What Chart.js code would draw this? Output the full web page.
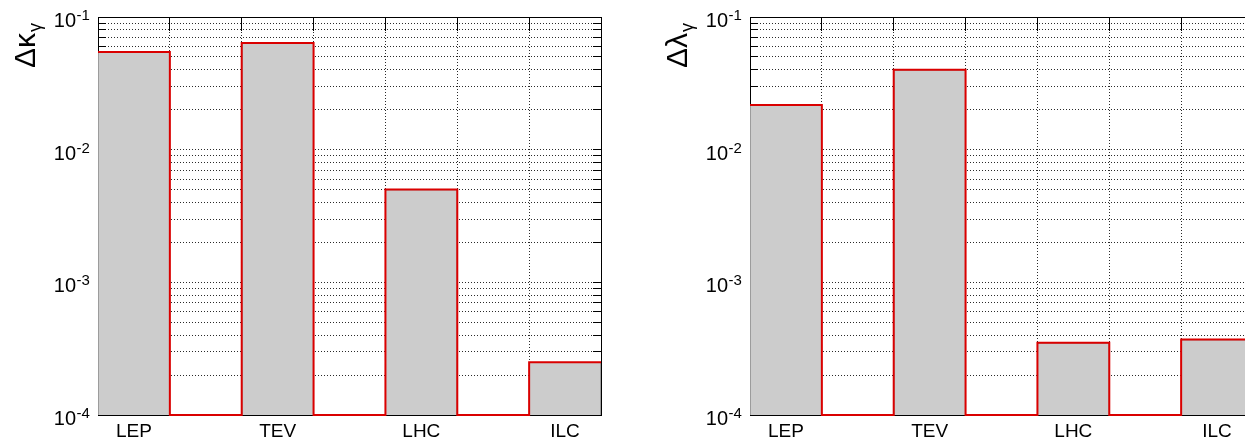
<!DOCTYPE html>
<html><head><meta charset="utf-8">
<script src="https://cdn.jsdelivr.net/npm/chart.js@4"></script>
<style>
html,body{margin:0;padding:0;background:#fff;overflow:hidden;width:1245px;height:441px;}
canvas{position:absolute;top:0;}
#c1{left:0}
#c2{left:620px}
</style></head><body>
<canvas id="c1" width="620" height="441"></canvas>
<canvas id="c2" width="660" height="441"></canvas>
<script>
const categories = ['LEP', 'TEV', 'LHC', 'ILC'];
const deltaKappa = [0.0545, 0.0636, 0.0050, 0.00025];
const deltaLambda = [0.0217, 0.0400, 0.00035, 0.00037];
const yMin = 1e-4, yMax = 1e-1;
const yTickValues = [1e-1, 1e-2, 1e-3, 1e-4];
const yTickBase = ['10', '10', '10', '10'];
const yTickExponents = ['-1', '-2', '-3', '-4'];
const titles = [['Δκ', 'γ'], ['Δλ', 'γ']];

const FONT = '"Liberation Sans", Arial, Helvetica, sans-serif';
const nSlots = categories.length * 2 - 1;

function align(p) { return Math.round(p - 0.5) + 0.5; }

const decor = {
  id: 'decor',
  beforeDatasetsDraw(chart) {
    const {ctx, chartArea: a, scales: {x, y}} = chart;
    ctx.save();
    ctx.strokeStyle = '#000';
    ctx.lineWidth = 1;
    ctx.beginPath();
    y.ticks.forEach(t => {
      const py = align(y.getPixelForValue(t.value));
      ctx.moveTo(a.left, py); ctx.lineTo(a.left + 8, py);
      ctx.moveTo(a.right, py); ctx.lineTo(a.right - 8, py);
    });
    x.ticks.forEach(t => {
      const px = align(x.getPixelForValue(t.value));
      ctx.moveTo(px, a.top); ctx.lineTo(px, a.top + 14);
      ctx.moveTo(px, a.bottom); ctx.lineTo(px, a.bottom - 14);
    });
    ctx.stroke();
    ctx.restore();
  },
  afterDatasetsDraw(chart) {
    const {ctx, chartArea: a} = chart;
    ctx.save();
    ctx.strokeStyle = '#000';
    ctx.lineWidth = 1;
    ctx.beginPath();
    const t = align(a.top), r = align(a.right);
    ctx.moveTo(align(a.left), t); ctx.lineTo(r, t); ctx.lineTo(r, align(a.bottom));
    ctx.stroke();
    ctx.restore();
  },
  afterDraw(chart, args, opts) {
    const {ctx, chartArea: a, scales: {y}} = chart;
    ctx.save();
    ctx.fillStyle = '#000';
    ctx.textBaseline = 'alphabetic';
    yTickValues.forEach((v, i) => {
      const py = y.getPixelForValue(v);
      ctx.font = '20px ' + FONT;
      ctx.textAlign = 'right';
      ctx.fillText(yTickBase[i], a.left - 22, py + 10);
      ctx.font = '15px ' + FONT;
      ctx.textAlign = 'left';
      ctx.fillText(yTickExponents[i], a.left - 21.5, py + 3);
    });
    // axis title
    const tt = titles[opts.idx];
    ctx.translate(a.left - 63, 68);
    ctx.rotate(-Math.PI / 2);
    ctx.font = '30px ' + FONT;
    ctx.textAlign = 'left';
    ctx.fillText(tt[0], 0, 0);
    const w = ctx.measureText(tt[0]).width;
    ctx.font = '18px ' + FONT;
    ctx.fillText(tt[1], w + 1, 6);
    ctx.restore();
  }
};

function makeChart(id, values, idx, yAxisWidth, padRight) {
  const bars = values.map((v, i) => ({x: 2 * i + 0.5, y: v}));
  const stairs = [];
  values.forEach((v, i) => {
    stairs.push({x: 2 * i, y: v});
    if (i < values.length - 1) stairs.push({x: 2 * i + 1, y: yMin});
  });
  stairs.push({x: nSlots, y: values[values.length - 1]});
  return new Chart(document.getElementById(id), {
    type: 'bar',
    data: {
      datasets: [
        {type: 'line', data: stairs, stepped: 'before', borderColor: 'rgb(218,0,0)', borderWidth: 2,
         pointRadius: 0, fill: false, clip: 6, order: 0},
        {type: 'bar', data: bars, backgroundColor: '#cccccc', borderColor: '#858585', borderWidth: 1,
         barPercentage: 1, categoryPercentage: 1, order: 1}
      ]
    },
    options: {
      responsive: false,
      animation: false,
      events: [],
      layout: {padding: {top: 17, right: padRight, left: 0, bottom: 0}},
      plugins: {legend: {display: false}, tooltip: {enabled: false}, decor: {idx: idx}},
      scales: {
        x: {
          type: 'linear', min: 0, max: nSlots, offset: false,
          afterBuildTicks: s => { const t = []; for (let i = 0; i <= nSlots; i++) t.push({value: i}); s.ticks = t; },
          afterFit: s => { s.height = 26; },
          grid: {offset: false, drawTicks: false, color: '#2a2a2a', lineWidth: 1},
          border: {display: true, color: '#000', width: 1, dash: [1, 2]},
          ticks: {
            autoSkip: false, maxRotation: 0, padding: 5, labelOffset: 35.9, color: '#000',
            font: {family: FONT, size: 19},
            callback: v => (v % 2 === 0 && v / 2 < categories.length) ? categories[v / 2] : ''
          }
        },
        y: {
          type: 'logarithmic', min: yMin, max: yMax,
          afterBuildTicks: s => {
            const t = [];
            for (let e = -4; e <= -2; e++) for (let m = 1; m <= 9; m++) t.push({value: m * Math.pow(10, e)});
            t.push({value: yMax});
            s.ticks = t;
          },
          afterFit: s => { s.width = yAxisWidth; },
          grid: {drawTicks: false, color: '#2a2a2a', lineWidth: 1},
          border: {display: true, color: '#000', width: 1, dash: [1, 2]},
          ticks: {display: false}
        }
      }
    },
    plugins: [decor]
  });
}

makeChart('c1', deltaKappa, 0, 98, 19);
makeChart('c2', deltaLambda, 1, 130, 27);
</script>
</body></html>
